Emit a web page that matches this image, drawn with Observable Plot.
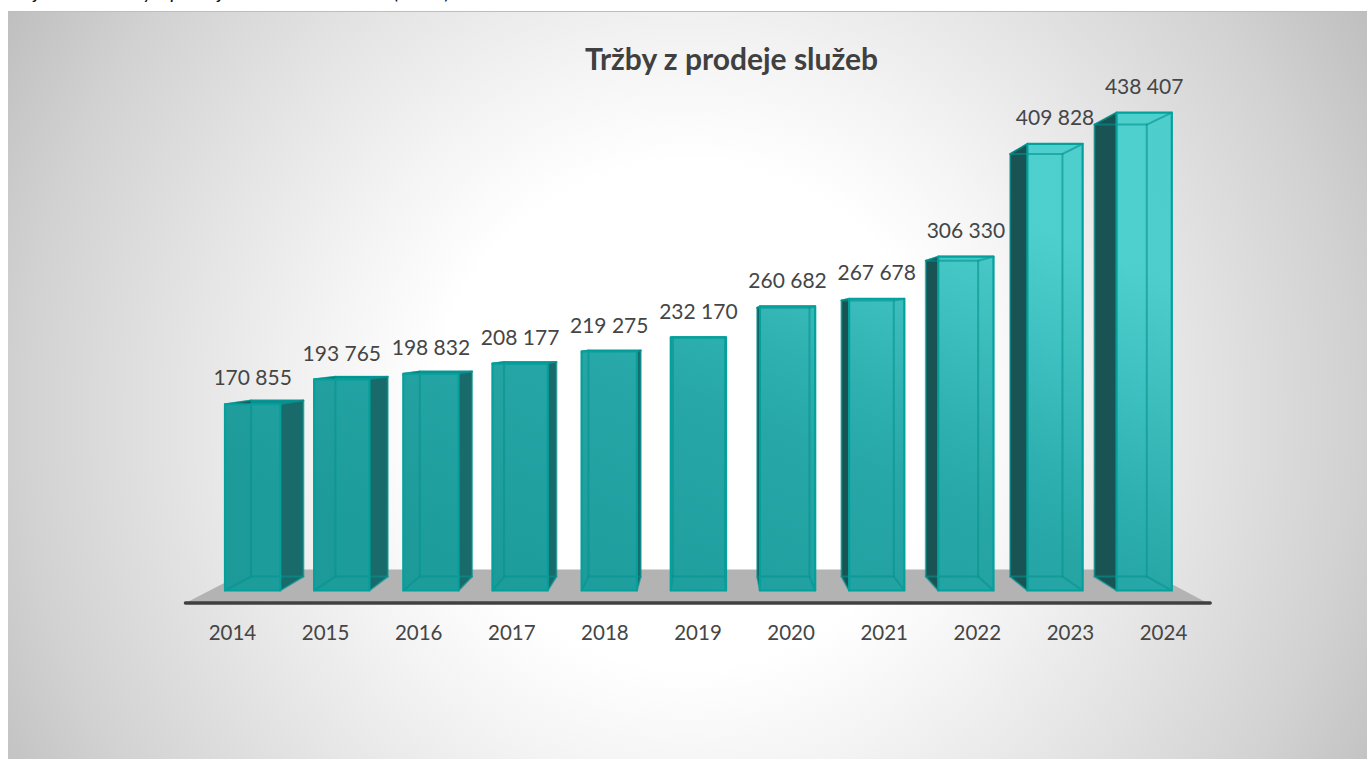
<!DOCTYPE html>
<html>
<head>
<meta charset="utf-8">
<script src="https://cdn.jsdelivr.net/npm/d3@7"></script>
<script src="https://cdn.jsdelivr.net/npm/@observablehq/plot@0.6"></script>
<style>
html,body{margin:0;padding:0;background:#fff;overflow:hidden;width:1367px;height:759px}
#panel{position:absolute;left:8px;top:11px;width:1359px;height:748px;border-top:1px solid #bdbdbd;box-sizing:border-box;
background:radial-gradient(circle 790px at 50% 54%,#ffffff 0%,#ffffff 32%,#f4f4f4 46%,#e6e6e6 62%,#d2d2d2 84%,#bfbfbf 100%)}
#chart{position:absolute;left:0;top:0}
#cut{position:absolute;left:9px;top:-21px;font:italic 20px Lato,sans-serif;color:#111;white-space:nowrap}
</style>
</head>
<body>
<div id="panel"></div>
<div id="cut">Objekt č. 7: Tržby z prodeje služeb celkem v Kč (2024)</div>
<div id="chart"></div>
<script>
const years = [2014,2015,2016,2017,2018,2019,2020,2021,2022,2023,2024];
const values = [170855,193765,198832,208177,219275,232170,260682,267678,306330,409828,438407];
const chartTitle = "Tržby z prodeje služeb";

// view of the 3D columns: vanishing point and depth scale, in chart units
const barWidth = 0.62, vanishX = 5.424, vanishY = 236239, depth = 0.946;
const project = (x, y, d) => d ? {x: vanishX + (x - vanishX) * depth, y: vanishY + (y - vanishY) * depth} : {x, y};

const fmt = d3.formatLocale({decimal: ",", thousands: " ", grouping: [3], currency: ["", ""]}).format(",d");

function face(i, v, corners, kind) {
  return corners.map(([s, top, d], k) => {
    const p = project(i + s * barWidth, top ? v : 0, d);
    return {id: `${kind}${i}`, k, x: p.x, y: p.y};
  });
}
const faces = {front: [], back: [], top: [], bottom: [], left: [], right: []};
const edges = [];
values.forEach((v, i) => {
  faces.front.push(...face(i, v, [[0,0,0],[1,0,0],[1,1,0],[0,1,0]], "f"));
  faces.back.push(...face(i, v, [[0,0,1],[1,0,1],[1,1,1],[0,1,1]], "b"));
  faces.top.push(...face(i, v, [[0,1,0],[1,1,0],[1,1,1],[0,1,1]], "t"));
  faces.bottom.push(...face(i, v, [[0,0,0],[1,0,0],[1,0,1],[0,0,1]], "o"));
  faces.left.push(...face(i, v, [[0,0,0],[0,0,1],[0,1,1],[0,1,0]], "l"));
  faces.right.push(...face(i, v, [[1,0,0],[1,0,1],[1,1,1],[1,1,0]], "r"));
  [[0,0],[1,0],[0,1],[1,1]].forEach(([s,t], e) => edges.push(...face(i, v, [[s,t,0],[s,t,1]], `e${e}-`)));
});

const floorRows = [{x:-0.443,y:-11468},{x:11.02,y:-11468},{x:10.31,y:19266},{x:0.286,y:19266}];
const baseRows = [{x:-0.443,y:-11468},{x:11.05,y:-11468}];

const defs = () => {
  const d = d3.create("svg:defs");
  const lg = d.append("linearGradient").attr("id","frontFill").attr("gradientUnits","userSpaceOnUse")
    .attr("x1",600).attr("y1",620).attr("x2",800).attr("y2",130);
  [[0,"#1c9d9c"],[0.45,"#27a8a8"],[0.6,"#30b2b2"],[0.8,"#3fc3c2"],[1,"#4fd2d0"]].forEach(([o,c]) => lg.append("stop").attr("offset",o).attr("stop-color",c));
  return d.node();
};

const line = (rows, o) => Plot.line(rows, {x:"x", y:"y", z:"id", curve:"linear-closed", ...o});

const plot = Plot.plot({
  width: 1367, height: 759,
  margin: 0,
  style: {background:"transparent", fontFamily:"Lato, sans-serif"},
  x: {domain:[-2.518, 12.815], range:[0,1367], axis:null},
  y: {domain:[-155046, 541284], range:[759,0], axis:null},
  marks: [
    defs,
    Plot.line(floorRows, {x:"x", y:"y", curve:"linear-closed", fill:"#b3b3b3", stroke:"none"}),
    Plot.line(baseRows, {x:"x", y:"y", stroke:"#404040", strokeWidth:3.5, strokeLinecap:"round"}),
    line(faces.back, {fill:"#1d8f8e", stroke:"none"}),
    line(faces.bottom, {fill:"#0c8f8d", stroke:"none", fillOpacity:0.9}),
    line(faces.top, {fill:"#0f8c8a", stroke:"#0a9a97", strokeWidth:1.5}),
    line(faces.left, {fill:"#1a4d4d", stroke:"none", fillOpacity:0.9}),
    line(faces.right, {fill:"#1a6666", stroke:"none", fillOpacity:0.9}),
    line(faces.front, {fill:"url(#frontFill)", fillOpacity:0.96, stroke:"none"}),
    line(faces.back, {stroke:"#03938f", strokeWidth:2, strokeOpacity:0.6}),
    Plot.line(edges, {x:"x", y:"y", z:"id", stroke:"#03938f", strokeWidth:2, strokeOpacity:0.6}),
    line(faces.front, {stroke:"#03a09c", strokeWidth:2.2}),
    Plot.text(values, {x:(d,i)=>i+barWidth/2, y:d=>d+23400, text:d=>fmt(d), fontSize:21, fill:"#454545"}),
    Plot.text(years, {x:(d,i)=>0.084+1.0443*i, y:-39450, text:d=>String(d), fontSize:20.5, fill:"#454545"}),
    Plot.text([chartTitle], {x:5.681, y:486240, text:d=>d, fontSize:30, fontWeight:"bold", fill:"#404040"})
  ]
});
document.getElementById("chart").appendChild(plot);
</script>
</body>
</html>
